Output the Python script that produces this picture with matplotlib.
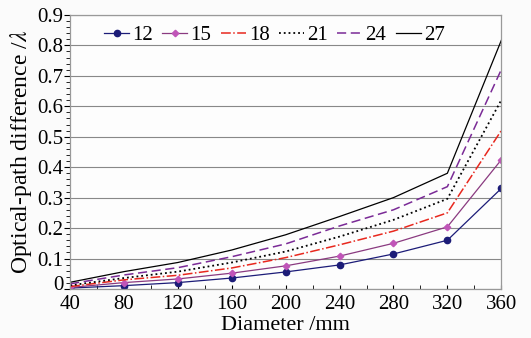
import numpy as np
import matplotlib
matplotlib.use('Agg')
import matplotlib.pyplot as plt
import matplotlib.transforms as mtransforms
from matplotlib.ticker import MultipleLocator

plt.rcParams['font.family'] = ['Liberation Serif', 'DejaVu Serif']
plt.rcParams['mathtext.fontset'] = 'stix'

diameter = [40, 80, 120, 160, 200, 240, 280, 320, 360]
labels = ['12', '15', '18', '21', '24', '27']
opd_12 = [0.003, 0.011, 0.021, 0.036, 0.056, 0.079, 0.115, 0.160, 0.330]
opd_15 = [0.005, 0.021, 0.033, 0.052, 0.076, 0.108, 0.150, 0.204, 0.424]
opd_18 = [0.008, 0.030, 0.045, 0.069, 0.103, 0.145, 0.190, 0.250, 0.520]
opd_21 = [0.012, 0.036, 0.057, 0.087, 0.123, 0.172, 0.227, 0.296, 0.620]
opd_24 = [0.017, 0.046, 0.070, 0.106, 0.148, 0.207, 0.260, 0.336, 0.720]
opd_27 = [0.022, 0.057, 0.087, 0.128, 0.178, 0.238, 0.300, 0.380, 0.816]

fig = plt.figure(figsize=(5.31, 3.38), dpi=100, facecolor='#fbfbfb')
ax = fig.add_axes([0.132, 0.145, 0.812, 0.811])
ax.set_facecolor('#fdfdfd')

ax.plot(diameter, opd_12, '-o', color='#1c1c78', lw=0.9, ms=4.5, label=labels[0])
ax.plot(diameter, opd_15, '-D', color='#8a3a80', mfc='#c055b8', mec='#c055b8', lw=0.9, ms=3.3, label=labels[1])
ax.plot(diameter, opd_18, '-.', color='#e8281e', lw=1.1, label=labels[2])
ax.plot(diameter, opd_21, ':', color='black', lw=1.3, label=labels[3])
ax.plot(diameter, opd_24, '--', color='#7a2a96', lw=1.1, dashes=(6, 3), label=labels[4])
ax.plot(diameter, opd_27, '-', color='black', lw=0.9, label=labels[5])

ax.set_xlim(40, 360)
ax.set_ylim(0, 0.9)
ax.set_xticks(diameter)
ax.set_yticks(np.arange(0, 0.91, 0.1))
ax.set_yticklabels(['0'] + ['%.1f' % v for v in np.arange(0.1, 0.91, 0.1)])
ax.xaxis.set_minor_locator(MultipleLocator(20))
ax.yaxis.set_minor_locator(MultipleLocator(0.02))
ax.tick_params(axis='x', which='both', direction='in', labelsize=15, length=3, pad=4)
ax.tick_params(axis='y', which='both', direction='out', labelsize=15, length=3, pad=1)
ax.tick_params(axis='y', which='major', length=4)
ax.grid(axis='y', color='#888888', lw=0.8)
ax.set_axisbelow(True)
for s in ax.spines.values():
    s.set_color('#999999')
    s.set_linewidth(0.9)

# nudge the "0" label up a little so it clears the "40"
zero = ax.get_yticklabels()[0]
zero.set_transform(zero.get_transform() + mtransforms.ScaledTranslation(0, 4 / 72, fig.dpi_scale_trans))

ax.set_xlabel('Diameter /mm', fontsize=16, labelpad=2)
ax.set_ylabel('Optical-path difference /$\\lambda$', fontsize=17, labelpad=2)

ax.legend(loc='upper left', bbox_to_anchor=(0.055, 1.0), ncol=6, frameon=False, fontsize=15,
          handlelength=1.2, handletextpad=0.15, columnspacing=0.45, borderaxespad=0.1)

fig.savefig('out.png', dpi=100, facecolor=fig.get_facecolor())
